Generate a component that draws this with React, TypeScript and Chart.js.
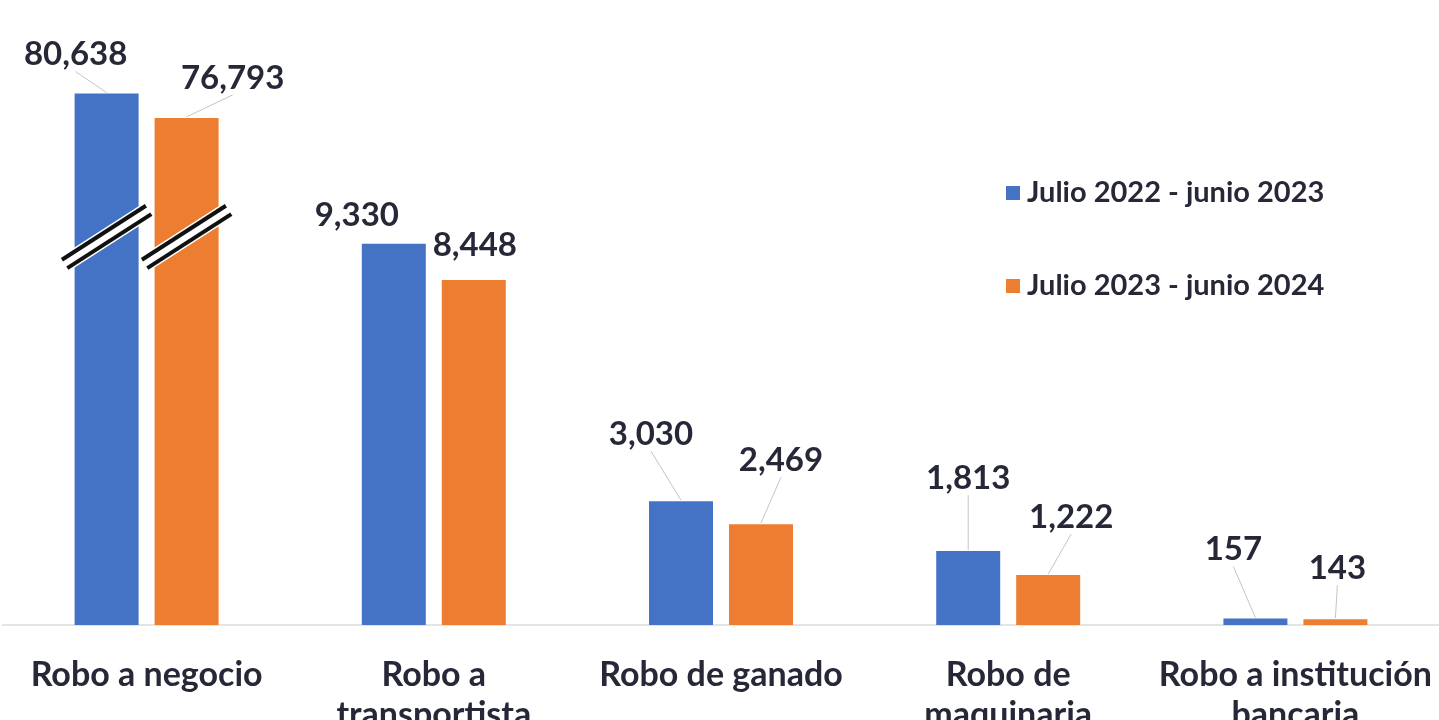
import React, { useEffect, useRef } from "react";
import { Chart, registerables } from "chart.js";

Chart.register(...registerables);

// ---------- data ----------
const categories: string[][] = [
  ["Robo a negocio"],
  ["Robo a", "transportista"],
  ["Robo de ganado"],
  ["Robo de", "maquinaria"],
  ["Robo a institución", "bancaria"],
];
const seriesNames = ["Julio 2022 - junio 2023", "Julio 2023 - junio 2024"];
const values2022_2023 = [80638, 9330, 3030, 1813, 157];
const values2023_2024 = [76793, 8448, 2469, 1222, 143];

// ---------- axis break (broken y axis) ----------
const Y_MAX = 15300;
const BREAK_LEVEL = 9500; // axis level where the break marks sit
const RESUME_VALUE = 58000; // real value at which the axis resumes
const UPPER_FACTOR = 0.155; // compression of the segment above the break
const toAxis = (v: number) =>
  v > RESUME_VALUE ? BREAK_LEVEL + (v - RESUME_VALUE) * UPPER_FACTOR : v;

// ---------- styling ----------
const COLORS = ["#4472C4", "#ED7D31"];
const TEXT = "#262837";
const FONT = "Lato";
// label offsets (px) from each bar's top centre, and whether a leader line is drawn
const labelOffsets = [
  [[-31, -39], [-37, -29], [-30, -67], [0, -73], [-22, -69]],
  [[46, -40], [1, -35], [20, -64], [23, -58], [2, -51]],
];
const leaders = [
  [true, false, true, true, true],
  [true, false, true, true, true],
];

const fmt = (v: number) => v.toLocaleString("en-US");

const overlayPlugin = {
  id: "overlay",
  afterDatasetsDraw(chart: any) {
    const ctx = chart.ctx;
    const yScale = chart.scales.y;
    const realSeries = [values2022_2023, values2023_2024];
    ctx.save();
    // break marks
    realSeries.forEach((vals, di) => {
      const meta = chart.getDatasetMeta(di);
      vals.forEach((v, i) => {
        if (v <= RESUME_VALUE) return;
        const el = meta.data[i];
        const cx = el.x;
        const cy = yScale.getPixelForValue(BREAK_LEVEL);
        const dx = 42, dy = 27;
        const len = Math.hypot(dx, dy);
        const px = dy / len, py = dx / len;
        ctx.lineCap = "butt";
        ctx.strokeStyle = "#ffffff";
        ctx.lineWidth = 17;
        ctx.beginPath();
        ctx.moveTo(cx - dx, cy + dy);
        ctx.lineTo(cx + dx, cy - dy);
        ctx.stroke();
        ctx.strokeStyle = "#111111";
        ctx.lineWidth = 4;
        [-5, 5].forEach((o) => {
          ctx.beginPath();
          ctx.moveTo(cx - dx + px * o, cy + dy + py * o);
          ctx.lineTo(cx + dx + px * o, cy - dy + py * o);
          ctx.stroke();
        });
      });
    });
    // value labels
    realSeries.forEach((vals, di) => {
      const meta = chart.getDatasetMeta(di);
      vals.forEach((v, i) => {
        const el = meta.data[i];
        const [ox, oy] = labelOffsets[di][i];
        const lx = el.x + ox;
        const ly = el.y + oy;
        if (leaders[di][i]) {
          ctx.strokeStyle = "#c4c4c4";
          ctx.lineWidth = 1;
          ctx.beginPath();
          ctx.moveTo(lx, ly + 17);
          ctx.lineTo(el.x, el.y - 1);
          ctx.stroke();
        }
        ctx.fillStyle = TEXT;
        ctx.font = `bold 33px ${FONT}`;
        ctx.textAlign = "center";
        ctx.textBaseline = "middle";
        ctx.fillText(fmt(v), lx, ly);
      });
    });
    // legend
    const legendY = [193, 286];
    seriesNames.forEach((name, di) => {
      ctx.fillStyle = COLORS[di];
      ctx.fillRect(1006, legendY[di] - 7, 14, 14);
      ctx.fillStyle = TEXT;
      ctx.font = `bold 29px ${FONT}`;
      ctx.textAlign = "left";
      ctx.textBaseline = "middle";
      ctx.fillText(name, 1027, legendY[di]);
    });
    ctx.restore();
  },
};

export default function App() {
  const canvasRef = useRef<HTMLCanvasElement | null>(null);

  useEffect(() => {
    document.body.style.margin = "0";
    const canvas = canvasRef.current;
    if (!canvas) return;
    const chart = new Chart(canvas, {
      type: "bar",
      data: {
        labels: categories,
        datasets: [
          {
            label: seriesNames[0],
            data: values2022_2023.map(toAxis),
            backgroundColor: COLORS[0],
            borderWidth: 0,
          },
          {
            label: seriesNames[1],
            data: values2023_2024.map(toAxis),
            backgroundColor: COLORS[1],
            borderWidth: 0,
          },
        ],
      },
      options: {
        animation: false,
        responsive: true,
        maintainAspectRatio: false,
        layout: { padding: { left: 3, right: 0, top: 0, bottom: 0 } },
        datasets: {
          bar: { categoryPercentage: 0.557, barPercentage: 0.8 },
        },
        plugins: {
          legend: { display: false },
          tooltip: { enabled: false },
        },
        scales: {
          x: {
            grid: { display: false, drawTicks: false },
            border: { display: true, color: "#e4e4e4", width: 2 },
            ticks: {
              color: TEXT,
              font: { family: FONT, weight: "bold", size: 34, lineHeight: 1.18 },
              padding: 30,
              maxRotation: 0,
              autoSkip: false,
            },
            afterFit: (scale: any) => {
              scale.height = 95;
              scale.paddingLeft = 0;
              scale.paddingRight = 0;
            },
          },
          y: {
            display: false,
            min: 0,
            max: Y_MAX,
          },
        },
      },
      plugins: [overlayPlugin],
    });
    return () => chart.destroy();
  }, []);

  return (
    <div
      style={{
        position: "fixed",
        left: 0,
        top: 0,
        width: "1439px",
        height: "720px",
        background: "#ffffff",
      }}
    >
      <canvas ref={canvasRef} />
    </div>
  );
}
